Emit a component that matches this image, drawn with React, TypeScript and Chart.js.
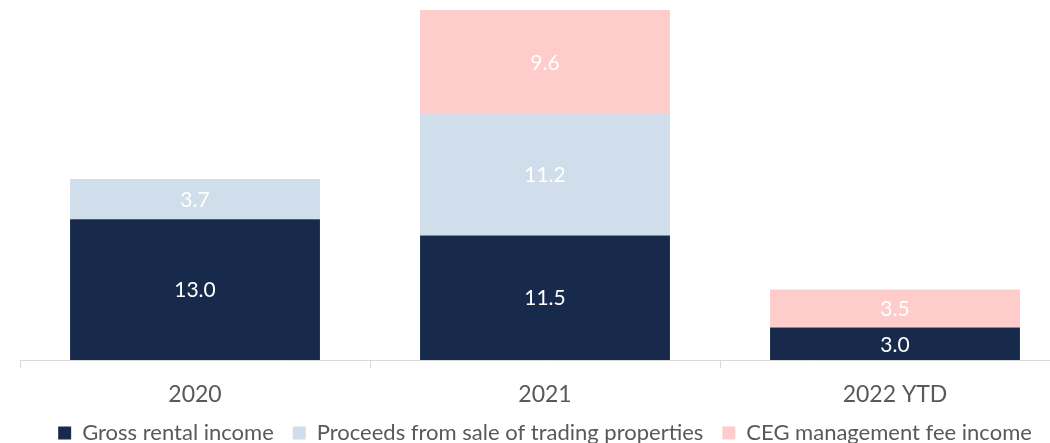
import React, { useEffect, useRef } from "react";
import { Chart, registerables } from "chart.js";

Chart.register(...registerables);

const categories = ["2020", "2021", "2022 YTD"];
const seriesNames = [
  "Gross rental income",
  "Proceeds from sale of trading properties",
  "CEG management fee income",
];
const grossRental = [13.0, 11.5, 3.0];
const proceedsSale = [3.7, 11.2, null];
const cegFee = [null, 9.6, 3.5];
const colors = ["#182A4B", "#CFDEEA", "#FFCCCC"];

const FONT = "Lato, 'Open Sans', sans-serif";

const valueLabels = {
  id: "valueLabels",
  afterDatasetsDraw(chart: any) {
    const ctx = chart.ctx;
    ctx.save();
    ctx.font = `21px ${FONT}`;
    ctx.fillStyle = "#ffffff";
    ctx.textAlign = "center";
    ctx.textBaseline = "middle";
    chart.data.datasets.forEach((ds: any, i: number) => {
      const meta = chart.getDatasetMeta(i);
      meta.data.forEach((el: any, j: number) => {
        const v = ds.data[j];
        if (v === null || v === undefined) return;
        const { x, y, base } = el.getProps(["x", "y", "base"], true);
        ctx.fillText(Number(v).toFixed(1), x, (y + base) / 2 + 1);
      });
    });
    ctx.restore();
  },
};

export default function App() {
  const ref = useRef<HTMLCanvasElement>(null);
  useEffect(() => {
    if (!ref.current) return;
    const chart = new Chart(ref.current, {
      type: "bar",
      data: {
        labels: categories,
        datasets: [grossRental, proceedsSale, cegFee].map((d, i) => ({
          label: seriesNames[i],
          data: d as any,
          backgroundColor: colors[i],
          borderWidth: 0,
          categoryPercentage: 1,
          barPercentage: 0.714,
        })),
      },
      options: {
        responsive: false,
        animation: false,
        layout: { padding: { left: 20, right: 20, top: 10, bottom: -11 } },
        plugins: {
          tooltip: { enabled: false },
          legend: {
            position: "bottom",
            labels: {
              boxWidth: 13,
              boxHeight: 13,
              padding: 19,
              color: "#595959",
              font: { family: FONT, size: 22 },
            },
          },
        },
        scales: {
          x: {
            stacked: true,
            offset: true,
            afterFit: (scale: any) => {
              scale.height = 43;
            },
            grid: {
              offset: true,
              drawOnChartArea: false,
              drawTicks: true,
              tickLength: 8,
              color: "#D9D9D9",
            },
            border: { display: true, color: "#D9D9D9" },
            ticks: {
              color: "#595959",
              padding: 20,
              font: { family: FONT, size: 23, lineHeight: 0.6 },
            },
          },
          y: {
            stacked: true,
            display: false,
            min: 0,
            max: 32.3,
          },
        },
      },
      plugins: [valueLabels],
    });
    return () => chart.destroy();
  }, []);
  return (
    <div
      style={{
        position: "absolute",
        left: 0,
        top: 0,
        width: 1050,
        height: 443,
        overflow: "hidden",
        background: "#fff",
      }}
    >
      <canvas ref={ref} width={1090} height={443} style={{ width: 1090, height: 443 }} />
    </div>
  );
}
